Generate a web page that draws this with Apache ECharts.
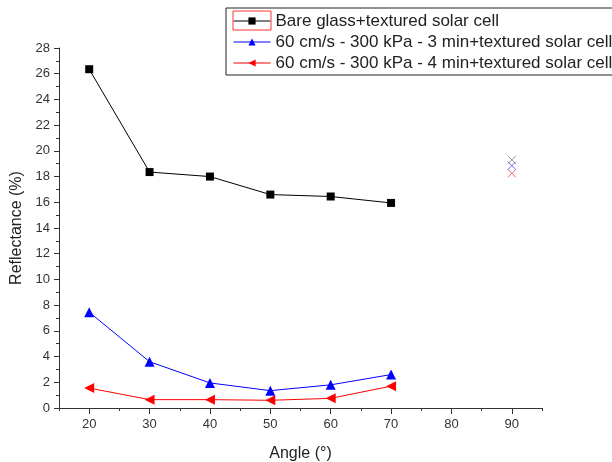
<!DOCTYPE html>
<html>
<head>
<meta charset="utf-8">
<script src="https://cdn.jsdelivr.net/npm/echarts@6/dist/echarts.min.js"></script>
<style>
  html, body { margin: 0; padding: 0; background: #fff; }
  #chart { width: 612px; height: 462px; }
</style>
</head>
<body>
<div id="chart"></div>
<script>
// angle (deg) on x, reflectance (%) on y
var angles = [20, 30, 40, 50, 60, 70];
var bareGlass = [26.35, 18.35, 18.0, 16.6, 16.45, 15.95];
var coat3min = [7.45, 3.6, 1.95, 1.35, 1.8, 2.6];
var coat4min = [1.55, 0.65, 0.65, 0.6, 0.75, 1.7];
// stray cross markers sitting at 90 deg
var strayAngle = 90;
var strayValues = [19.3, 18.85, 18.25];

var xMajorTicks = [20, 30, 40, 50, 60, 70, 80, 90];
var xMinorTicks = [15, 25, 35, 45, 55, 65, 75, 85, 95];

var names = [
    'Bare glass+textured solar cell',
    '60 cm/s - 300 kPa - 3 min+textured solar cell',
    '60 cm/s - 300 kPa - 4 min+textured solar cell'
];

function pairs(xs, ys) {
    return xs.map(function (x, i) { return [x, ys[i]]; });
}

var chart = echarts.init(document.getElementById('chart'));
var font = 'Liberation Sans, Arial, sans-serif';
var axisColor = '#333';

var option = {
    animation: false,
    textStyle: { fontFamily: font },
    grid: { left: 59, right: 70, top: 48, bottom: 54, outerBoundsMode: 'none', containLabel: false },
    legend: {
        orient: 'vertical',
        left: 226,
        top: 8,
        padding: [4, 7, 3, 7],
        itemGap: 3,
        itemWidth: 37,
        itemHeight: 9,
        borderColor: '#222',
        borderWidth: 1,
        lineStyle: { width: 1 },
        textStyle: { fontSize: 17, lineHeight: 18, color: '#222', fontFamily: font },
        data: names
    },
    xAxis: [{
        type: 'value',
        min: 15,
        max: 95,
        name: 'Angle (°)',
        nameLocation: 'middle',
        nameGap: 38,
        nameTextStyle: { fontSize: 16, color: '#222' },
        axisLine: { lineStyle: { color: axisColor, width: 1 } },
        axisTick: { length: 6, customValues: xMajorTicks, lineStyle: { color: axisColor } },
        splitLine: { show: false },
        axisLabel: { fontSize: 13, color: '#333', margin: 10, customValues: xMajorTicks }
    }, {
        type: 'value',
        min: 15,
        max: 95,
        position: 'bottom',
        axisLine: { show: false },
        axisTick: { show: true, length: 3, customValues: xMinorTicks, lineStyle: { color: axisColor } },
        axisLabel: { show: false },
        splitLine: { show: false }
    }],
    yAxis: {
        type: 'value',
        min: 0,
        max: 28,
        interval: 2,
        name: 'Reflectance (%)',
        nameLocation: 'middle',
        nameGap: 34,
        nameTextStyle: { fontSize: 16, color: '#222' },
        axisLine: { show: true, lineStyle: { color: axisColor, width: 1 } },
        axisTick: { show: true, length: 5, lineStyle: { color: axisColor } },
        minorTick: { show: true, splitNumber: 2, length: 3, lineStyle: { color: axisColor } },
        splitLine: { show: false },
        axisLabel: { fontSize: 13, color: '#333', margin: 9 }
    },
    graphic: [{
        type: 'rect',
        shape: { x: 233, y: 11, width: 38, height: 19 },
        style: { fill: 'none', stroke: '#ff3333', lineWidth: 1 },
        z: 100
    }],
    series: [
        {
            name: names[0],
            type: 'line',
            data: pairs(angles, bareGlass),
            symbol: 'rect',
            symbolSize: 8,
            itemStyle: { color: '#000' },
            lineStyle: { color: '#000', width: 1 }
        },
        {
            name: names[1],
            type: 'line',
            data: pairs(angles, coat3min),
            symbol: 'triangle',
            symbolSize: 10,
            itemStyle: { color: '#0000ff' },
            lineStyle: { color: '#0000ff', width: 1 }
        },
        {
            name: names[2],
            type: 'line',
            data: pairs(angles, coat4min),
            symbol: 'triangle',
            symbolRotate: 90,
            symbolSize: 10,
            itemStyle: { color: '#ff0000' },
            lineStyle: { color: '#ff0000', width: 1 }
        },
        {
            type: 'scatter',
            symbol: 'path://M0,0L10,10M10,0L0,10',
            symbolSize: 8,
            itemStyle: { color: 'none', borderWidth: 1 },
            data: [
                { value: [strayAngle, strayValues[0]], itemStyle: { borderColor: '#777' } },
                { value: [strayAngle, strayValues[1]], itemStyle: { borderColor: '#4444ff' } },
                { value: [strayAngle, strayValues[2]], itemStyle: { borderColor: '#ff4444' } }
            ]
        }
    ]
};

chart.setOption(option);
</script>
</body>
</html>
